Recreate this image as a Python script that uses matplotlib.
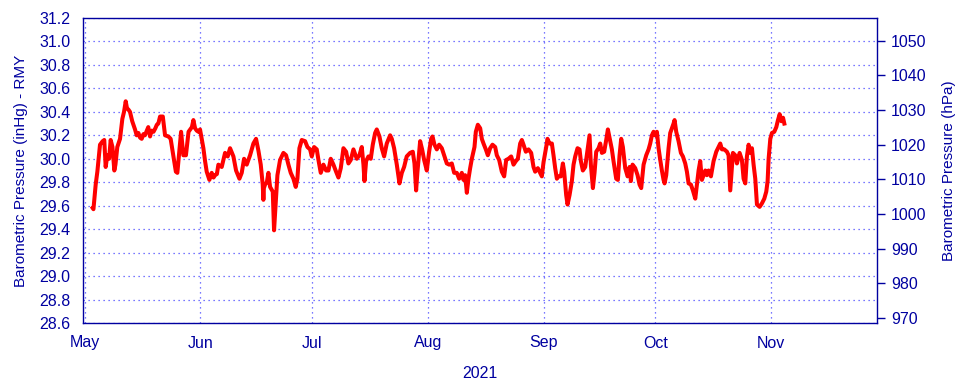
import matplotlib
matplotlib.use("Agg")
import matplotlib.pyplot as plt
import matplotlib.dates as mdates
import numpy as np
import pandas as pd

# days since 2021-04-30 12:00
days = [
    2.6, 2.8, 3.4, 3.85, 4.56, 5.28, 5.7, 6.08, 6.53, 7.0, 7.42, 7.9, 8.4, 8.7, 9.2, 9.93,
    10.55, 11.0, 11.45, 11.8, 12.16, 12.6, 13.2, 13.95, 14.4, 14.85, 15.3, 15.74, 16.2, 16.6,
    17.1, 17.5, 17.98, 18.4, 18.9, 19.4, 19.8, 20.2, 20.66, 21.4, 22.0, 22.9, 23.5, 24.2,
    24.9, 25.3, 25.8, 26.3, 26.9, 27.6, 28.3, 29.2, 29.6, 30.05, 30.5, 30.95,
    31.38, 31.83, 32.28, 32.73, 33.17, 33.89, 34.51, 35.0, 35.41, 35.9, 36.3, 37.2, 38.09,
    38.8, 39.43, 40.33, 41.04, 41.94, 42.56, 43.19, 43.9, 44.8, 45.69, 46.4, 47.03, 47.66,
    48.19, 48.37, 48.5, 48.82, 49.3, 49.71, 50.16, 50.88, 51.23, 51.45, 51.59, 52.13, 52.84,
    53.74, 54.45, 55.08, 55.7, 56.42, 57.04, 57.49, 58.03, 58.66, 59.55, 60.18,
    60.89, 61.34, 61.96, 62.68, 63.13, 63.75, 64.47, 65.18, 65.81, 66.43, 67.15, 67.86,
    68.49, 69.12, 69.83, 70.55, 71.17, 71.8, 72.51, 73.41, 74.12, 74.75, 75.2, 75.47, 75.91,
    76.54, 77.16, 77.7, 78.33, 78.77, 79.49, 80.11, 80.74, 81.45, 82.35, 82.8, 83.42, 84.14,
    84.86, 85.49, 86.1, 86.8, 87.7, 88.43, 88.88, 89.32, 89.68, 90.4, 90.93, 91.47,
    92.18, 92.81, 93.35, 93.71, 94.24, 94.87, 95.49, 96.21, 96.92, 97.55, 98.18, 98.89,
    99.52, 100.23, 100.86, 101.57, 102.02, 102.47, 102.92, 103.36, 103.81, 104.26, 104.97,
    105.33, 105.87, 106.5, 106.94, 107.39, 108.01, 108.55, 109.17, 109.8, 110.52, 110.96,
    111.59, 112.3, 112.93, 113.47, 114.09, 114.81, 115.44, 116.06, 116.6, 117.22, 117.67,
    118.12, 118.74, 119.46, 120.17, 120.8, 121.24, 121.96, 122.59, 123.03, 123.48,
    124.2, 124.55, 125.09, 125.72, 126.16, 126.61, 127.06, 127.5, 128.13, 128.67, 129.02,
    129.56, 129.92, 130.46, 131.08, 131.53, 131.98, 132.6, 133.14, 133.5, 134.03, 134.66,
    135.29, 135.82, 136.18, 136.72, 137.16, 137.61, 138.24, 138.68, 139.13, 139.75, 140.29,
    140.74, 141.36, 141.81, 142.25, 142.97, 143.42, 143.87, 144.31, 144.76, 145.39, 146.02,
    146.55, 146.91, 147.36, 148.07, 148.7, 149.23, 149.68, 150.31, 151.02, 151.65,
    152.09, 152.54, 152.99, 153.43, 153.88, 154.33, 154.78, 155.22, 155.67, 155.94, 156.38,
    157.01, 157.46, 157.91, 158.35, 158.62, 159.07, 159.69, 160.32, 160.86, 161.48, 161.93,
    162.38, 163.0, 163.54, 164.17, 164.61, 165.06, 165.5, 165.95, 166.4, 166.85, 167.29,
    167.74, 168.37, 169.08, 169.8, 170.42, 170.87, 171.32, 171.94, 172.66, 173.1, 173.55,
    173.91, 174.27, 174.89, 175.34, 176.06, 176.68, 177.13, 177.58, 178.02, 178.47, 178.92,
    179.37, 179.81, 180.26, 180.71, 181.42, 182.05, 182.68, 183.21, 183.57, 183.84, 184.29,
    184.73, 185.36, 185.9, 186.35, 186.8, 187.25, 187.7, 188.05,
]

pressure_inhg = [
    29.58, 29.57, 29.78, 29.89, 30.12, 30.15, 30.16, 29.93, 30.03, 30.0, 30.16, 30.1, 29.9, 29.95, 30.1, 30.17,
    30.34, 30.4, 30.49, 30.43, 30.42, 30.4, 30.32, 30.25, 30.2, 30.22, 30.18, 30.17, 30.21, 30.2,
    30.24, 30.27, 30.19, 30.24, 30.23, 30.26, 30.29, 30.3, 30.36, 30.36, 30.2, 30.19, 30.17, 30.03,
    29.89, 29.88, 30.06, 30.23, 30.03, 30.03, 30.23, 30.27, 30.33, 30.26, 30.24, 30.23,
    30.25, 30.17, 30.09, 29.98, 29.89, 29.82, 29.88, 29.84, 29.86, 29.87, 29.95, 29.93, 30.05,
    30.02, 30.09, 30.02, 29.9, 29.83, 29.88, 30.0, 29.95, 30.03, 30.13, 30.17, 30.07, 29.95,
    29.78, 29.65, 29.75, 29.78, 29.8, 29.88, 29.76, 29.72, 29.39, 29.5, 29.58, 29.86, 29.99,
    30.05, 30.03, 29.95, 29.88, 29.83, 29.76, 29.83, 30.09, 30.16, 30.15, 30.1,
    30.08, 30.02, 30.1, 30.08, 29.99, 29.88, 29.95, 29.9, 29.9, 30.0, 29.95, 29.89,
    29.84, 29.92, 30.09, 30.06, 29.96, 29.99, 30.08, 30.0, 30.03, 30.1, 29.95, 29.81, 29.98,
    30.02, 30.0, 30.12, 30.22, 30.25, 30.19, 30.09, 30.02, 30.13, 30.2, 30.17, 30.09, 29.95,
    29.79, 29.88, 29.93, 30.02, 30.05, 30.06, 29.96, 29.73, 29.89, 30.15, 30.08, 29.99,
    29.9, 30.06, 30.17, 30.19, 30.12, 30.08, 30.12, 30.09, 30.02, 29.96, 29.95, 29.96,
    29.88, 29.88, 29.83, 29.88, 29.82, 29.86, 29.71, 29.83, 29.92, 30.0, 30.1,
    30.23, 30.29, 30.26, 30.17, 30.13, 30.08, 30.03, 30.09, 30.12, 30.1, 30.03,
    29.99, 29.89, 29.85, 29.99, 30.0, 30.02, 29.95, 29.98, 30.0, 30.13, 30.16,
    30.12, 30.06, 30.08, 30.05, 29.93, 29.89, 29.92, 29.88, 29.85, 29.97,
    30.1, 30.17, 30.13, 30.13, 30.03, 29.92, 29.83, 29.85, 29.85, 29.96, 29.89,
    29.69, 29.61, 29.69, 29.81, 29.95, 30.02, 30.09, 30.08, 29.98, 29.9, 29.93,
    30.08, 30.2, 29.95, 29.75, 29.88, 30.06, 30.09, 30.13, 30.05, 30.06, 30.16,
    30.25, 30.15, 30.08, 29.98, 29.83, 29.82, 30.03, 30.17, 30.1, 29.92, 29.85,
    29.93, 29.81, 29.95, 29.92, 29.86, 29.78, 29.75, 29.95, 30.03, 30.08,
    30.13, 30.2, 30.23, 30.2, 30.23, 30.09, 29.99, 29.9, 29.82, 29.79, 29.86,
    30.09, 30.22, 30.26, 30.3, 30.33, 30.23, 30.15, 30.05, 30.02, 29.96, 29.89,
    29.79, 29.78, 29.73, 29.66, 29.78, 29.9, 29.98, 29.82, 29.86, 29.9, 29.86,
    29.9, 29.85, 29.98, 30.06, 30.1, 30.13, 30.08, 30.08, 30.06, 30.03, 29.73,
    29.89, 30.05, 30.03, 29.96, 30.05, 29.99, 29.83, 29.79, 30.02, 30.12, 30.05,
    30.09, 29.95, 29.83, 29.61, 29.59, 29.62, 29.66, 29.72, 29.81, 30.0, 30.17,
    30.22, 30.23, 30.27, 30.33, 30.38, 30.32, 30.35, 30.3,
]

inhg_ticks = [28.6, 28.8, 29.0, 29.2, 29.4, 29.6, 29.8, 30.0, 30.2, 30.4, 30.6, 30.8, 31.0, 31.2]
hpa_ticks = [970, 980, 990, 1000, 1010, 1020, 1030, 1040, 1050]
month_starts = ["2021-05-01", "2021-06-01", "2021-07-01", "2021-08-01",
                "2021-09-01", "2021-10-01", "2021-11-01"]

HPA_PER_INHG = 33.8639
t0 = pd.Timestamp("2021-04-30 12:00")
times = t0 + pd.to_timedelta(days, unit="D")

navy = "#0000A0"
plt.rcParams["font.family"] = ["Liberation Sans", "DejaVu Sans"]

fig = plt.figure(figsize=(9.6, 3.84), dpi=100)
ax = fig.add_axes([83 / 960, 1 - 323 / 384, (877 - 83) / 960, (323 - 18) / 384])

ax.plot(times, pressure_inhg, color="#FF0000", linewidth=2.9, solid_joinstyle="round")

ax.set_ylim(28.6, 31.2)
ax.set_yticks(inhg_ticks)
ax.set_yticklabels([f"{v:.1f}" for v in inhg_ticks])
ax.set_xlim(t0, t0 + pd.Timedelta(days=212.9))
ax.set_xticks(pd.to_datetime(month_starts))
ax.xaxis.set_major_formatter(mdates.DateFormatter("%b"))

ax.grid(True, color="#2020FF", linestyle=(0, (1, 3)), linewidth=0.9, alpha=0.8)
ax.tick_params(axis="both", length=0, colors=navy, labelsize=11.5)
ax.tick_params(axis="y", pad=9)
ax.tick_params(axis="x", pad=9)
for s in ax.spines.values():
    s.set_color(navy)
    s.set_linewidth(1.0)

ax.set_ylabel("Barometric Pressure (inHg) - RMY", color=navy, fontsize=11, labelpad=8)
ax.set_xlabel("2021", color=navy, fontsize=11.5, labelpad=11)

ax2 = ax.twinx()
ax2.set_ylim(28.6 * HPA_PER_INHG, 31.2 * HPA_PER_INHG)
ax2.set_yticks(hpa_ticks)
ax2.tick_params(axis="y", length=6, width=1.0, colors=navy, labelsize=11.5, pad=4)
for s in ax2.spines.values():
    s.set_visible(False)
ax2.set_ylabel("Barometric Pressure (hPa)", color=navy, fontsize=11, labelpad=11)

fig.savefig("out.png", dpi=100)
